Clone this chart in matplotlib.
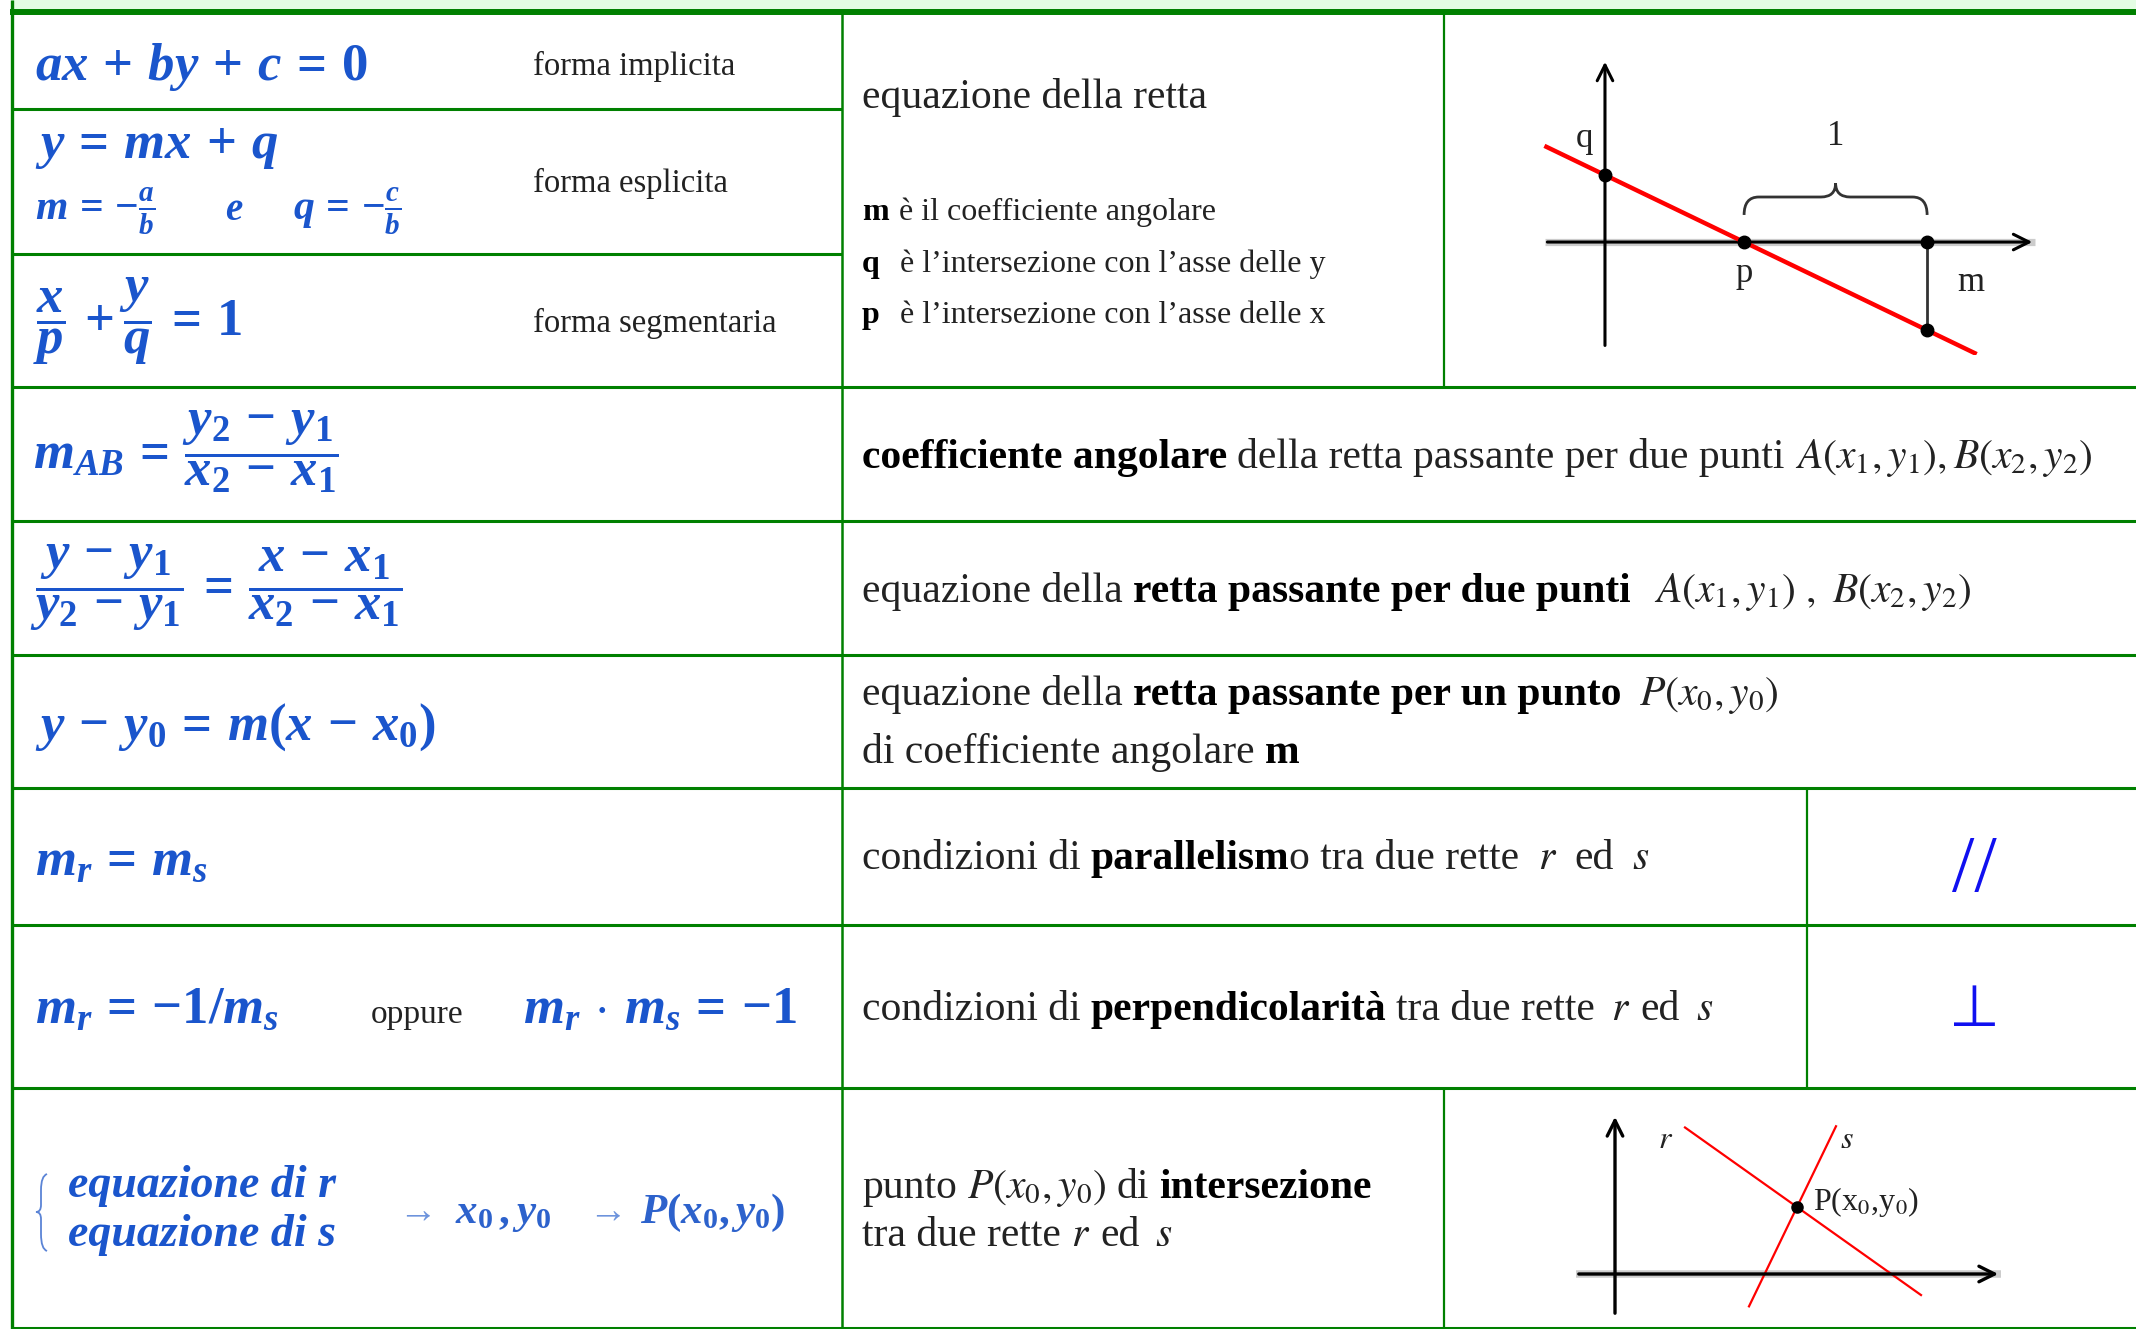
import matplotlib
matplotlib.use("Agg")
import matplotlib.pyplot as plt
from matplotlib.path import Path
from matplotlib.patches import PathPatch, Rectangle

plt.rcParams['font.family'] = ['Liberation Serif', 'DejaVu Serif']
plt.rcParams['mathtext.fontset'] = 'custom'
plt.rcParams['mathtext.rm'] = 'Liberation Serif:bold'
plt.rcParams['mathtext.it'] = 'Liberation Serif:italic:bold'
plt.rcParams['mathtext.bf'] = 'Liberation Serif:bold'

W, H = 2136, 1329
GREEN = '#008000'
BLUE = '#1a55cc'
TXT = '#222222'

# table grid (pixel rows / columns)
row_edges = [12, 109, 254, 387, 521, 655, 788, 925, 1088, 1328]
col_main = 842

# diagram 1: retta y = m x + q
d1_q = 0.366
d1_p = 0.76
d1_xaxis = [-0.33, 2.35]
d1_yaxis = [-0.58, 1.0]
d1_line_x = [-0.32, 2.02]

# diagram 2: two lines crossing in P
d2_P = [1.82, 0.67]
d2_slope_r = -0.71
d2_slope_s = 2.07
d2_rx = [0.70, 3.06]
d2_sx = [1.34, 2.21]
d2_xaxis = [-0.39, 3.86]
d2_yaxis = [-0.42, 1.60]

fig = plt.figure(figsize=(W / 100, H / 100), dpi=100)
ax = fig.add_axes([0, 0, 1, 1])
ax.set_xlim(0, W)
ax.set_ylim(H, 0)
ax.axis('off')
renderer = fig.canvas.get_renderer()

# ---- grid ----
ax.add_patch(Rectangle((12, 0), W, 9, color='#e4fde4', lw=0))
ax.hlines(12, 10, W, color=GREEN, lw=4.3)
ax.hlines([109, 254], 12, col_main, color=GREEN, lw=2.2)
ax.hlines(row_edges[3:], 12, W, color=GREEN, lw=2.2)
ax.vlines(12, 0, 1329, color=GREEN, lw=2.4)
ax.vlines(col_main, 12, 1328, color=GREEN, lw=1.8)
ax.vlines(1444, 12, 387, color=GREEN, lw=1.6)
ax.vlines(1444, 1088, 1328, color=GREEN, lw=1.6)
ax.vlines(1807, 788, 1088, color=GREEN, lw=1.6)

# ---- text helper ----
STY = {
    'n': dict(color=TXT),
    'b': dict(color='black', fontweight='bold'),
    'm': dict(color=TXT, math_fontfamily='stix'),
}


def line(x, y, parts, size=30, gap=10):
    for part in parts:
        s, k = part[0], part[1]
        g = part[2] if len(part) > 2 else gap
        t = ax.text(x, y, s, fontsize=size, va='baseline', ha='left', **STY[k])
        x += t.get_window_extent(renderer).width + g
    return x


def blue(x, y, s, size=38, va='baseline', color=BLUE, **kw):
    ax.text(x, y, s, fontsize=size, va=va, ha='left', color=color, **kw)


# ---- left column formulas ----
blue(35, 80, r'$ax\,+\,by\,+\,c\,=\,0$')
ax.text(533, 75, 'forma implicita', fontsize=23.5, color=TXT, va='baseline')

blue(35, 158, r'$y\,=\,mx\,+\,q$')
blue(35, 220, r'$m\,=\,{-}\frac{a}{b}$', size=30)
blue(225, 220, r'$e$', size=28)
blue(293, 220, r'$q\,=\,{-}\frac{c}{b}$', size=30)
ax.text(533, 192, 'forma esplicita', fontsize=23.5, color=TXT, va='baseline')

blue(33, 321, r'$\dfrac{x}{p}\,+\dfrac{y}{q}\,=\,1$', va='center')
ax.text(533, 332, 'forma segmentaria', fontsize=23.5, color=TXT, va='baseline')

blue(33, 452, r'$m_{AB}\,=\,\dfrac{y_2\,-\,y_1}{x_2\,-\,x_1}$', va='center')
blue(30, 588, r'$\dfrac{\,y\,-\,y_1\,}{y_2\,-\,y_1}\,=\,\dfrac{\,x\,-\,x_1\,}{x_2\,-\,x_1}$', va='center')
blue(35, 740, r'$y\,-\,y_0\,=\,m(x\,-\,x_0)$')
blue(35, 875, r'$m_r\,=\,m_s$')
blue(35, 1023, r'$m_r\,=\,{-}1/m_s$')
ax.text(371, 1023, 'oppure', fontsize=24, color=TXT, va='baseline')
blue(523, 1023, r'$m_r\,\cdot\,m_s\,=\,{-}1$')

# system of two equations
brace_v = [(47, 1174), (41, 1176), (41, 1190), (41, 1205), (41, 1212), (36, 1212),
           (41, 1212), (41, 1219), (41, 1234), (41, 1249), (47, 1251)]
brace_c = [Path.MOVETO, Path.CURVE3, Path.CURVE3, Path.LINETO, Path.CURVE3, Path.CURVE3,
           Path.CURVE3, Path.CURVE3, Path.LINETO, Path.CURVE3, Path.CURVE3]
ax.add_patch(PathPatch(Path(brace_v, brace_c), fill=False, ec='#5b84d6', lw=1.3))
ax.text(68, 1197, 'equazione di r', fontsize=33, color=BLUE, style='italic',
        weight='bold', va='baseline')
ax.text(68, 1246, 'equazione di s', fontsize=33, color=BLUE, style='italic',
        weight='bold', va='baseline')
blue(392, 1221, r'$\rightarrow$', size=28, color='#6d93dc')
blue(455, 1223, r'$x_0\,,y_0$', size=31, color='#2d62cc')
blue(582, 1221, r'$\rightarrow$', size=28, color='#6d93dc')
blue(640, 1223, r'$P(x_0,y_0)$', size=31, color='#2d62cc')

# ---- descriptions ----
line(862, 108, [('equazione della retta', 'n')])
line(862, 220, [('m', 'b', 10), ('è il coefficiente angolare', 'n')], size=23)
line(862, 272, [('q', 'b', 20), ('è l’intersezione con l’asse delle y', 'n')], size=23)
line(862, 323, [('p', 'b', 20), ('è l’intersezione con l’asse delle x', 'n')], size=23)

line(862, 468, [('coefficiente angolare', 'b'), ('della retta passante per due punti', 'n'),
                (r'$A(x_1,y_1),B(x_2,y_2)$', 'm')])
line(862, 602, [('equazione della', 'n'), ('retta passante per due punti', 'b', 24),
                (r'$A(x_1,y_1)\ ,\ B(x_2,y_2)$', 'm')])
line(862, 705, [('equazione della', 'n'), ('retta passante per un punto', 'b', 18),
                (r'$P(x_0,y_0)$', 'm')])
line(862, 763, [('di coefficiente angolare', 'n'), ('m', 'b')])
line(862, 869, [('condizioni di', 'n'), ('parallelism', 'b', 0), ('o tra due rette', 'n', 18),
                ('$r$', 'm', 18), ('ed', 'n', 18), ('$s$', 'm')])
line(862, 1020, [('condizioni di', 'n'), ('perpendicolarità', 'b'), ('tra due rette', 'n', 16),
                 ('$r$', 'm'), ('ed', 'n', 16), ('$s$', 'm')])
line(862, 1198, [('punto', 'n'), ('$P(x_0,y_0)$', 'm'), ('di', 'n'), ('intersezione', 'b')])
line(862, 1246, [('tra due rette', 'n'), ('$r$', 'm'), ('ed', 'n', 16), ('$s$', 'm')])

# symbols
ax.text(1974, 872, '//', fontsize=58, color='#1010f0', ha='center', va='center',
        family='Liberation Serif')
ax.text(1974, 1010, '⊥', fontsize=42, color='#1010f0', ha='center', va='center',
        family='DejaVu Sans')


# ---- diagrams ----
def px_axes(x0, y0, x1, y1):
    a = fig.add_axes([x0 / W, 1 - y1 / H, (x1 - x0) / W, (y1 - y0) / H])
    a.axis('off')
    return a


def arrows(a, xr, yr, lw=2.2):
    a.plot(xr, [0, 0], color='#cccccc', lw=lw + 3, solid_capstyle='butt', zorder=1)
    a.annotate('', xy=(xr[1], 0), xytext=(xr[0], 0),
               arrowprops=dict(arrowstyle='->', lw=lw, color='black', mutation_scale=28))
    a.annotate('', xy=(0, yr[1]), xytext=(0, yr[0]),
               arrowprops=dict(arrowstyle='->', lw=lw, color='black', mutation_scale=28))


# diagram 1
a1 = px_axes(1540, 50, 2045, 355)
a1.set_xlim(-0.355, 2.404)
a1.set_ylim(-0.617, 1.049)
arrows(a1, d1_xaxis, d1_yaxis)
m1 = -d1_q / d1_p
a1.plot(d1_line_x, [m1 * x + d1_q for x in d1_line_x], color='red', lw=3.2, zorder=3)
x_m = d1_p + 1
y_m = m1 * x_m + d1_q
a1.plot([x_m, x_m], [0, y_m], color='#333333', lw=2, zorder=2)
a1.plot([0, d1_p, x_m, x_m], [d1_q, 0, 0, y_m], 'o', color='black', ms=9, zorder=4)
# brace over the unit step
b0, bf, bt, r = 0.148, 0.246, 0.322, 0.08
xm = d1_p + 0.5
bv = [(d1_p, b0), (d1_p, bf), (d1_p + r, bf), (xm - r, bf), (xm, bf), (xm, bt),
      (xm, bf), (xm + r, bf), (x_m - r, bf), (x_m, bf), (x_m, b0)]
bc = [Path.MOVETO, Path.CURVE3, Path.CURVE3, Path.LINETO, Path.CURVE3, Path.CURVE3,
      Path.CURVE3, Path.CURVE3, Path.LINETO, Path.CURVE3, Path.CURVE3]
a1.add_patch(PathPatch(Path(bv, bc), fill=False, ec='#333333', lw=2))
lab = dict(fontsize=25, color=TXT, ha='center', va='center')
a1.text(xm, 0.574, '1', **lab)
a1.text(-0.11, 0.568, 'q', **lab)
a1.text(d1_p, -0.17, 'p', **lab)
a1.text(2.0, -0.22, 'm', **lab)

# diagram 2
a2 = px_axes(1560, 1100, 2020, 1325)
a2.set_xlim(-0.55, 4.05)
a2.set_ylim(-0.51, 1.74)
arrows(a2, d2_xaxis, d2_yaxis, lw=2.4)
a2.plot(d2_rx, [d2_P[1] + d2_slope_r * (x - d2_P[0]) for x in d2_rx], color='red', lw=1.6)
a2.plot(d2_sx, [d2_P[1] + d2_slope_s * (x - d2_P[0]) for x in d2_sx], color='red', lw=1.6)
a2.plot([d2_P[0]], [d2_P[1]], 'o', color='black', ms=8, zorder=4)
a2.text(0.51, 1.33, '$r$', fontsize=23, color=TXT, ha='center', va='center',
        math_fontfamily='stix')
a2.text(2.32, 1.33, '$s$', fontsize=23, color=TXT, ha='center', va='center',
        math_fontfamily='stix')
a2.text(1.98, 0.72, r'P(x$_0$,y$_0$)', fontsize=23, color=TXT, ha='left', va='center',
        math_fontfamily='stix')

fig.savefig('out.png', dpi=100)
